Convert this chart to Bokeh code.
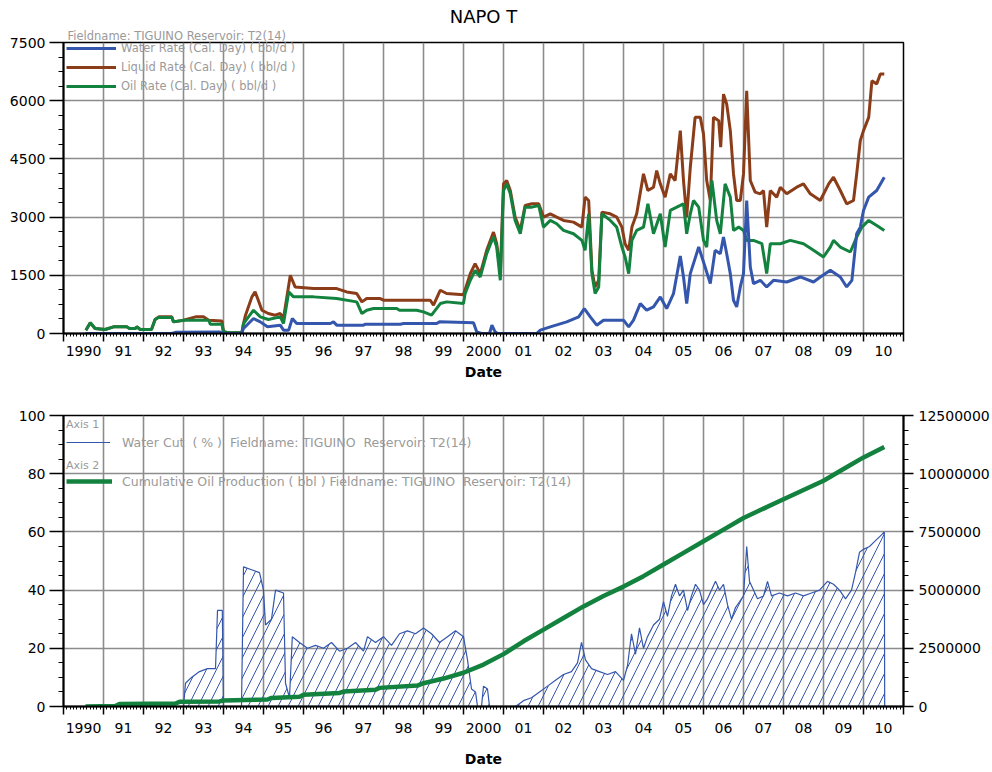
from bokeh.plotting import figure
from bokeh.models import (ColumnDataSource, FixedTicker, LinearAxis, Range1d,
                          Legend, LegendItem, NumeralTickFormatter, Title)
from bokeh.layouts import column
from bokeh.embed import file_html
from bokeh.resources import INLINE

# ---------------- Production rates (bbl/d), dates in decimal years ----------------
water_dates = [1990.55, 1992.7, 1992.8, 1993.9, 1994.0, 1994.45, 1994.5, 1994.75, 1994.92,
               1995.1, 1995.42, 1995.5, 1995.63, 1995.72, 1995.83, 1996.67, 1996.75, 1996.83,
               1997.5, 1997.55, 1998.42, 1998.5, 1999.33, 1999.4, 2000.25, 2000.33, 2000.45,
               2000.65, 2000.71, 2000.79, 2000.85, 2001.83, 2001.92, 2002.17, 2002.58, 2002.88,
               2003.02, 2003.17, 2003.33, 2003.5, 2004.0, 2004.13, 2004.25, 2004.42, 2004.58,
               2004.75, 2004.92, 2005.08, 2005.25, 2005.42, 2005.5, 2005.58, 2005.67, 2005.88,
               2006.04, 2006.17, 2006.29, 2006.42, 2006.5, 2006.58, 2006.67, 2006.75, 2006.83,
               2006.92, 2007.0, 2007.08, 2007.17, 2007.25, 2007.42, 2007.58, 2007.75, 2008.08,
               2008.42, 2008.75, 2008.92, 2009.17, 2009.42, 2009.58, 2009.71, 2009.83, 2009.92,
               2010.0, 2010.13, 2010.33, 2010.52]
water_rate = [0, 0, 30, 40, 0, 0, 129, 386, 300,
              172, 215, 86, 86, 386, 257, 257, 300, 215,
              215, 240, 240, 257, 257, 300, 280, 43, 0,
              0, 214, 43, 0, 0, 86, 171, 300, 428,
              643, 428, 214, 343, 343, 171, 343, 771, 600,
              686, 943, 643, 1028, 2000, 1457, 771, 1543, 2228,
              1714, 1286, 2143, 2057, 2485, 2057, 1543, 857, 686,
              1200, 1543, 3428, 1714, 1286, 1371, 1200, 1371, 1328,
              1457, 1328, 1457, 1628, 1457, 1200, 1371, 2571, 2742,
              3171, 3514, 3685, 4028]

liquid_dates = [1990.56, 1990.67, 1990.79, 1991.04, 1991.25, 1991.58, 1991.65, 1991.8, 1991.83,
                1991.92, 1992.2, 1992.29, 1992.38, 1992.71, 1992.75, 1993.0, 1993.3, 1993.5,
                1993.63, 1993.96, 1994.0, 1994.12, 1994.46, 1994.5, 1994.55, 1994.71, 1994.79,
                1994.87, 1994.96, 1995.12, 1995.29, 1995.42, 1995.5, 1995.67, 1995.79, 1996.25,
                1996.83, 1997.08, 1997.33, 1997.46, 1997.58, 1997.92, 1998.0, 1999.17, 1999.25,
                1999.42, 1999.58, 2000.0, 2000.17, 2000.29, 2000.42, 2000.58, 2000.75, 2000.83,
                2000.92, 2001.0, 2001.08, 2001.17, 2001.29, 2001.42, 2001.54, 2001.71, 2001.88,
                2002.0, 2002.17, 2002.33, 2002.5, 2002.75, 2002.96, 2003.04, 2003.13, 2003.21,
                2003.29, 2003.38, 2003.46, 2003.67, 2003.83, 2003.96, 2004.04, 2004.13, 2004.21,
                2004.33, 2004.5, 2004.61, 2004.75, 2004.83, 2004.92, 2005.04, 2005.17, 2005.29,
                2005.42, 2005.5, 2005.58, 2005.67, 2005.79, 2005.92, 2006.0, 2006.08, 2006.17,
                2006.25, 2006.38, 2006.43, 2006.5, 2006.58, 2006.67, 2006.75, 2006.83, 2006.92,
                2007.0, 2007.08, 2007.17, 2007.29, 2007.42, 2007.5, 2007.58, 2007.67, 2007.83,
                2007.92, 2008.08, 2008.33, 2008.5, 2008.67, 2008.92, 2009.13, 2009.25, 2009.42,
                2009.58, 2009.75, 2009.83, 2009.92, 2010.0, 2010.13, 2010.21, 2010.33, 2010.42,
                2010.52]
liquid_rate = [86, 275, 129, 103, 172, 172, 129, 129, 172,
               103, 103, 360, 429, 429, 300, 343, 429, 429,
               343, 320, 43, 17, 17, 257, 472, 944, 1072,
               858, 600, 515, 472, 515, 386, 1500, 1200, 1158,
               1158, 1072, 1030, 815, 900, 900, 858, 858, 729,
               1115, 1030, 1000, 1543, 1800, 1543, 2143, 2614, 2314,
               1543, 3857, 3942, 3685, 3000, 2657, 3300, 3342, 3342,
               3000, 3085, 3000, 2914, 2871, 2742, 3513, 3428, 1628,
               1200, 1371, 3128, 3085, 3000, 2742, 2314, 2143, 2742,
               3085, 4114, 3685, 3771, 4200, 3857, 3514, 4114, 3942,
               5228, 3942, 3000, 4285, 5571, 5571, 5142, 3942, 3428,
               5571, 5485, 4800, 6170, 5913, 5228, 4114, 3428, 3428,
               4114, 6256, 3942, 3642, 3600, 3685, 2742, 3685, 3514,
               3771, 3600, 3771, 3857, 3600, 3428, 3857, 4028, 3685,
               3342, 3428, 4114, 4971, 5228, 5571, 6513, 6428, 6685,
               6685]

oil_dates = [1990.56, 1990.67, 1990.79, 1991.04, 1991.25, 1991.58, 1991.65, 1991.8, 1991.83,
             1991.92, 1992.2, 1992.29, 1992.38, 1992.71, 1992.75, 1993.0, 1993.63, 1993.67,
             1993.96, 1994.0, 1994.12, 1994.46, 1994.5, 1994.75, 1994.92, 1995.12, 1995.42,
             1995.5, 1995.63, 1995.75, 1996.25, 1996.83, 1997.33, 1997.46, 1997.58, 1997.75,
             1998.33, 1998.4, 1998.83, 1999.0, 1999.2, 1999.42, 1999.58, 2000.0, 2000.04,
             2000.17, 2000.29, 2000.42, 2000.58, 2000.71, 2000.75, 2000.83, 2000.92, 2001.0,
             2001.08, 2001.17, 2001.29, 2001.42, 2001.54, 2001.71, 2001.88, 2002.0, 2002.17,
             2002.33, 2002.5, 2002.75, 2002.96, 2003.04, 2003.13, 2003.21, 2003.29, 2003.38,
             2003.46, 2003.67, 2003.83, 2003.96, 2004.04, 2004.13, 2004.21, 2004.33, 2004.5,
             2004.61, 2004.75, 2004.92, 2005.04, 2005.17, 2005.42, 2005.5, 2005.58, 2005.67,
             2005.75, 2005.88, 2006.0, 2006.08, 2006.21, 2006.33, 2006.42, 2006.54, 2006.67,
             2006.75, 2006.88, 2007.0, 2007.08, 2007.25, 2007.46, 2007.58, 2007.67, 2007.92,
             2008.17, 2008.5, 2008.75, 2009.0, 2009.17, 2009.25, 2009.42, 2009.67, 2009.83,
             2009.96, 2010.13, 2010.33, 2010.52]
oil_rate = [86, 275, 129, 103, 172, 172, 129, 129, 172,
            103, 103, 360, 412, 412, 300, 343, 343, 240,
            240, 43, 17, 17, 257, 600, 429, 360, 429,
            257, 1072, 944, 944, 900, 815, 515, 600, 643,
            643, 600, 600, 558, 472, 772, 815, 771, 1028,
            1371, 1628, 1457, 2057, 2400, 2485, 2228, 1371, 3685,
            3857, 3600, 2914, 2571, 3257, 3257, 3300, 2742, 2914,
            2828, 2657, 2571, 2400, 2143, 3085, 1543, 1028, 1200,
            3085, 2914, 2742, 2228, 1971, 1543, 2400, 2657, 2742,
            3342, 2571, 3085, 2228, 3171, 3300, 3342, 2571, 3085,
            3428, 3257, 2400, 2228, 3942, 2914, 2571, 3857, 3514,
            2657, 2742, 2657, 2400, 2400, 2314, 1543, 2314, 2314,
            2400, 2314, 2143, 1971, 2228, 2400, 2228, 2100, 2485,
            2742, 2914, 2785, 2657]

# ---------------- Water cut (%) and cumulative oil (bbl) ----------------
wcut_dates = [1990.55, 1993.0, 1993.05, 1993.2, 1993.4, 1993.6, 1993.8, 1993.85, 1993.97,
              1994.0, 1994.45, 1994.5, 1994.7, 1994.9, 1995.0, 1995.05, 1995.2,
              1995.3, 1995.5, 1995.55, 1995.65, 1995.72, 1995.9, 1996.1, 1996.3, 1996.5,
              1996.7, 1996.9, 1997.1, 1997.3, 1997.5, 1997.6, 1997.8, 1998.0, 1998.2,
              1998.4, 1998.6, 1998.8, 1999.0, 1999.2, 1999.4, 1999.6, 1999.8, 2000.0,
              2000.1, 2000.2, 2000.3, 2000.35, 2000.45, 2000.5, 2000.6, 2000.65, 2001.3,
              2001.5, 2001.7, 2001.9, 2002.1, 2002.3, 2002.5, 2002.7, 2002.85, 2002.95,
              2003.05, 2003.2, 2003.4, 2003.6, 2003.8, 2004.0, 2004.1, 2004.2, 2004.3,
              2004.4, 2004.5, 2004.6, 2004.75, 2004.9, 2005.0, 2005.1, 2005.2, 2005.3,
              2005.4, 2005.5, 2005.6, 2005.7, 2005.8, 2005.9, 2006.0, 2006.1, 2006.2,
              2006.3, 2006.4, 2006.5, 2006.6, 2006.7, 2006.8, 2006.9, 2007.0, 2007.08,
              2007.15, 2007.25, 2007.35, 2007.5, 2007.6, 2007.7, 2007.9, 2008.1, 2008.3,
              2008.5, 2008.7, 2008.9, 2009.1, 2009.25, 2009.4, 2009.55, 2009.7, 2009.8,
              2009.9, 2010.0, 2010.15, 2010.3, 2010.45, 2010.52, 2010.53]
water_cut = [0, 0, 8, 10, 12, 13, 13, 33, 33,
             0, 0, 48, 47, 46, 40, 28, 30,
             40, 39, 8, 3, 24, 22, 20, 21, 20,
             22, 19, 20, 22, 19, 24, 22, 24, 21,
             25, 26, 25, 27, 25, 22, 24, 26, 24,
             16, 6, 5, 0, 0, 7, 6, 0, 0,
             2, 3, 5, 7, 9, 11, 12, 15, 22,
             16, 13, 12, 11, 12, 9, 14, 25, 18,
             27, 20, 24, 28, 30, 36, 31, 38, 42,
             38, 40, 33, 38, 42, 40, 35, 37, 40,
             43, 40, 42, 35, 30, 34, 36, 38, 55,
             43, 40, 37, 38, 43, 38, 39, 38, 39,
             38, 39, 40, 43, 42, 40, 37, 40, 46,
             53, 54, 55, 57, 59, 60, 0]

cum_dates = [1990.55, 1991.3, 1991.4, 1992.8, 1992.9, 1993.9, 1994.0, 1995.1, 1995.2, 1995.9,
             1996.0, 1996.9, 1997.0, 1997.8, 1997.9, 1998.85, 1999.0, 1999.5, 2000.0, 2000.5,
             2001.0, 2001.5, 2002.0, 2002.5, 2003.0, 2003.5, 2004.0, 2004.5, 2005.0, 2005.5,
             2006.0, 2006.5, 2007.0, 2007.5, 2008.0, 2008.5, 2009.0, 2009.5, 2010.0, 2010.52]
cum_oil = [0, 20000, 110000, 130000, 200000, 220000, 260000, 300000, 370000, 420000,
           500000, 580000, 640000, 720000, 800000, 900000, 1000000, 1200000, 1450000, 1800000,
           2250000, 2800000, 3300000, 3800000, 4300000, 4750000, 5150000, 5600000, 6100000, 6600000,
           7100000, 7600000, 8100000, 8500000, 8900000, 9300000, 9700000, 10200000, 10700000, 11150000]

# ---------------- Axis ticks ----------------
year_ticks = list(range(1990, 2012))
month_ticks = [y + m / 12 for y in range(1990, 2011) for m in range(1, 12)]
mid_years = [y + 0.5 for y in range(1990, 2011)]
year_labels = ["1990", "91", "92", "93", "94", "95", "96", "97", "98", "99",
               "2000", "01", "02", "03", "04", "05", "06", "07", "08", "09", "10"]

rate_ticks = [0, 1500, 3000, 4500, 6000, 7500]
cut_ticks = [0, 20, 40, 60, 80, 100]
cum_ticks = [0, 2500000, 5000000, 7500000, 10000000, 12500000]

BLUE = "#3456ac"
BROWN = "#8a3d18"
GREEN = "#13823f"
GRID = "#8c8c8c"
LEG_TEXT = "#9a9a9a"
FONT = "DejaVu Sans"
TICK_SIZE = "14px"


def minors(ticks, n):
    out = []
    for a, b in zip(ticks[:-1], ticks[1:]):
        out += [a + (b - a) * k / n for k in range(1, n)]
    return out


def base_style(p):
    p.background_fill_color = "white"
    p.border_fill_color = "white"
    p.outline_line_color = "black"
    p.outline_line_width = 1.5
    p.xgrid.ticker = FixedTicker(ticks=year_ticks)
    for g in (p.xgrid, p.ygrid):
        g.grid_line_color = GRID
        g.grid_line_width = 1.6


def style_value_axis(ax, ticks, minor, tick_out):
    ax.ticker = FixedTicker(ticks=ticks, minor_ticks=minor)
    ax.major_tick_in = 0
    ax.major_tick_out = tick_out
    ax.minor_tick_in = 0
    ax.minor_tick_out = 5
    ax.major_label_standoff = 4
    ax.axis_line_width = 2
    ax.axis_line_color = "black"
    ax.major_tick_line_width = 1.5
    ax.major_tick_line_color = "black"
    ax.minor_tick_line_color = "black"
    ax.major_label_text_font = FONT
    ax.major_label_text_font_size = TICK_SIZE
    ax.major_label_text_color = "black"


def add_date_axes(p, label_standoff, title_standoff):
    # axis line along the frame with short monthly ticks
    ax = p.xaxis[0]
    ax.ticker = FixedTicker(ticks=[], minor_ticks=month_ticks)
    ax.major_tick_in = 0
    ax.major_tick_out = 3
    ax.minor_tick_in = 0
    ax.minor_tick_out = 3
    ax.axis_line_width = 2
    ax.axis_line_color = "black"
    ax.minor_tick_line_color = "black"
    # longer year-start ticks, and the year labels centred on each year
    lab = LinearAxis(ticker=FixedTicker(ticks=mid_years, minor_ticks=year_ticks),
                     major_label_overrides=dict(zip(mid_years, year_labels)),
                     axis_label="Date",
                     axis_line_color=None,
                     major_tick_line_color=None,
                     major_tick_in=0, major_tick_out=0,
                     minor_tick_in=3, minor_tick_out=5,
                     minor_tick_line_color="black", minor_tick_line_width=1.5,
                     major_label_standoff=label_standoff,
                     major_label_text_font=FONT, major_label_text_font_size=TICK_SIZE,
                     major_label_text_color="black",
                     axis_label_standoff=title_standoff,
                     axis_label_text_font=FONT, axis_label_text_font_size="14px",
                     axis_label_text_font_style="bold", axis_label_text_color="black")
    p.add_layout(lab, "below")


def legend_style(leg, font, label_size, title_size):
    leg.background_fill_alpha = 0
    leg.border_line_color = None
    leg.padding = 0
    leg.margin = 0
    leg.label_text_font = font
    leg.label_text_font_size = label_size
    leg.label_text_color = LEG_TEXT
    leg.title_text_font = font
    leg.title_text_font_size = title_size
    leg.title_text_color = LEG_TEXT
    leg.title_text_font_style = "normal"


# ---------------- Rates chart ----------------
top = figure(width=992, height=390, x_range=Range1d(1990, 2011), y_range=Range1d(0, 7500),
             output_backend="svg", toolbar_location=None,
             min_border_left=63, min_border_right=89, min_border_top=42, min_border_bottom=57)
top.add_layout(Title(text="Fieldname: TIGUINO  Reservoir: T2(14)", align="left", offset=4,
                     standoff=0, text_font=FONT, text_font_size="11.5px",
                     text_line_height=0.8,
                     text_font_style="normal", text_color=LEG_TEXT), "above")
top.add_layout(Title(text="NAPO T", align="center", standoff=0,
                     text_font=FONT, text_font_size="18px", text_font_style="normal",
                     text_color="black"), "above")
base_style(top)
top.ygrid.ticker = FixedTicker(ticks=rate_ticks)
style_value_axis(top.yaxis[0], rate_ticks, minors(rate_ticks, 4), 14)
add_date_axes(top, 4, 5)

r_liq = top.line(liquid_dates, liquid_rate, color=BROWN, line_width=3)
r_oil = top.line(oil_dates, oil_rate, color=GREEN, line_width=3)
r_wat = top.line(water_dates, water_rate, color=BLUE, line_width=3)

leg_top = Legend(items=[LegendItem(label="Water Rate (Cal. Day) ( bbl/d )", renderers=[r_wat]),
                        LegendItem(label="Liquid Rate (Cal. Day) ( bbl/d )", renderers=[r_liq]),
                        LegendItem(label="Oil Rate (Cal. Day) ( bbl/d )", renderers=[r_oil])],
                 location=(3, 240))
legend_style(leg_top, FONT, "11.5px", "11.5px")
leg_top.glyph_width = 50
leg_top.glyph_height = 14
leg_top.label_height = 14
leg_top.label_standoff = 5
leg_top.spacing = 5
top.add_layout(leg_top)

# ---------------- Water cut / cumulative chart ----------------
bot = figure(width=992, height=382, x_range=Range1d(1990, 2011), y_range=Range1d(0, 100),
             output_backend="svg", toolbar_location=None,
             min_border_left=63, min_border_right=89, min_border_top=25, min_border_bottom=66)
bot.extra_y_ranges = {"cum": Range1d(0, 12500000)}
base_style(bot)
bot.ygrid.ticker = FixedTicker(ticks=cut_ticks)
style_value_axis(bot.yaxis[0], cut_ticks, minors(cut_ticks, 4), 14)
right_ax = LinearAxis(y_range_name="cum", formatter=NumeralTickFormatter(format="0"))
style_value_axis(right_ax, cum_ticks, minors(cum_ticks, 4), 10)
right_ax.major_label_standoff = 5
bot.add_layout(right_ax, "right")
add_date_axes(bot, 8, 15)

wsrc = ColumnDataSource(dict(x=wcut_dates, y=water_cut))
bot.varea(x="x", y1=0, y2="y", source=wsrc, fill_color="white", fill_alpha=0,
          hatch_pattern="/", hatch_color=BLUE, hatch_weight=1, hatch_scale=20)
r_wc = bot.line("x", "y", source=wsrc, color=BLUE, line_width=1.2)
r_cum = bot.line(cum_dates, cum_oil, y_range_name="cum", color=GREEN, line_width=4.5)

leg1 = Legend(items=[LegendItem(label="Water Cut  ( % )  Fieldname: TIGUINO  Reservoir: T2(14)",
                                renderers=[r_wc])],
              title="Axis 1", location=(3, 256))
legend_style(leg1, FONT, "12.5px", "11px")
leg1.title_standoff = 3
leg1.glyph_width = 44
leg1.glyph_height = 16
leg1.label_height = 16
leg1.label_standoff = 12
bot.add_layout(leg1)

leg2 = Legend(items=[LegendItem(label="Cumulative Oil Production ( bbl ) Fieldname: TIGUINO  Reservoir: T2(14)",
                                renderers=[r_cum])],
              title="Axis 2", location=(3, 217))
legend_style(leg2, FONT, "12.5px", "11px")
leg2.title_standoff = 1
leg2.glyph_width = 46
leg2.glyph_height = 16
leg2.label_height = 16
leg2.label_standoff = 10
bot.add_layout(leg2)

page = column(top, bot, spacing=0)
with open("out.html", "w") as f:
    f.write(file_html(page, INLINE))
